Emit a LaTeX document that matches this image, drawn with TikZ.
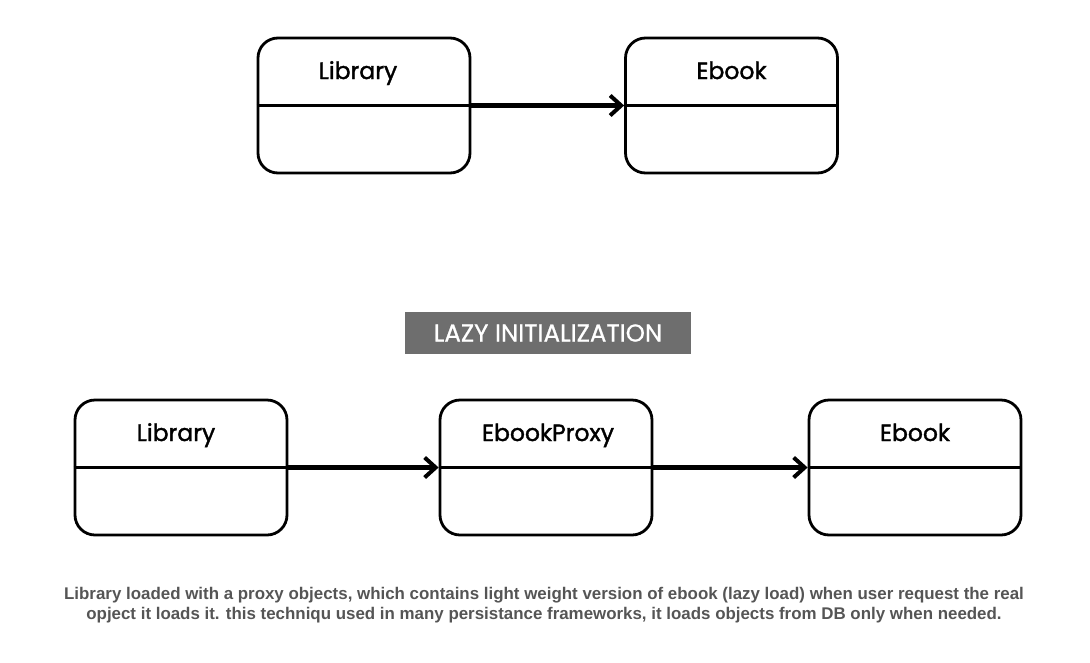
\documentclass[tikz,border=0pt]{standalone}
\usepackage{fontspec}
\setmainfont{Poppins}
\newfontfamily\medfont{Poppins}[FakeBold=1.5]
\newfontfamily\bandfont{Poppins}[FakeBold=0.8]
\newfontfamily\capfont{Liberation Sans}
\usetikzlibrary{arrows.meta}
\definecolor{capgray}{HTML}{555555}
\definecolor{bandgray}{HTML}{6E6E6E}
\tikzset{
  classbox/.style={draw=black, line width=2.8pt, rounded corners=20pt,
    minimum width=212pt, minimum height=135pt, inner sep=0pt},
  classname/.style={font=\medfont\fontsize{23.5}{28}\selectfont, text=black, anchor=base, inner sep=0pt},
  assoc/.style={line width=4.6pt, -{Straight Barb[length=11pt,width=20pt,line width=4pt]}},
  divider/.style={line width=2.5pt}
}
\begin{document}
\begin{tikzpicture}[x=1pt,y=-1pt]
\useasboundingbox (0,0) rectangle (1090,662);
% top row
\node[classbox] (lib1) at (364,105.5) {};
\node[classbox] (eb1) at (731.5,105.5) {};
\draw[divider] (lib1.west) -- (lib1.east);
\draw[divider] (eb1.west) -- (eb1.east);
\node[classname] (lib1t) at (358,79) {Library};
\node[classname] (eb1t) at (731.5,79) {Ebook};
\draw[assoc] (lib1.east) -- (eb1.west);
% band
\node[fill=bandgray, minimum width=286pt, minimum height=42pt, inner sep=0pt,
  text=white, font=\bandfont\fontsize{24.5}{28}\selectfont] (band) at (548,333) {LAZY INITIALIZATION};
% bottom row
\node[classbox] (lib2) at (181,467.5) {};
\node[classbox] (prx) at (546,467.5) {};
\node[classbox] (eb2) at (915,467.5) {};
\draw[divider] (lib2.west) -- (lib2.east);
\draw[divider] (prx.west) -- (prx.east);
\draw[divider] (eb2.west) -- (eb2.east);
\node[classname] (lib2t) at (176,441) {Library};
\node[classname] (prxt) at (548,441) {EbookProxy};
\node[classname] (eb2t) at (915,441) {Ebook};
\draw[assoc] (lib2.east) -- (prx.west);
\draw[assoc] (prx.east) -- (eb2.west);
% caption
\node[align=center, text=capgray, font=\capfont\bfseries\fontsize{16.9}{20}\selectfont] (cap) at (544,605.5)
  {Library loaded with a proxy objects, which contains light weight version of ebook (lazy load) when user request the real\\
   opject it loads it. this techniqu used in many persistance frameworks, it loads objects from DB only when needed.};
\end{tikzpicture}
\end{document}
